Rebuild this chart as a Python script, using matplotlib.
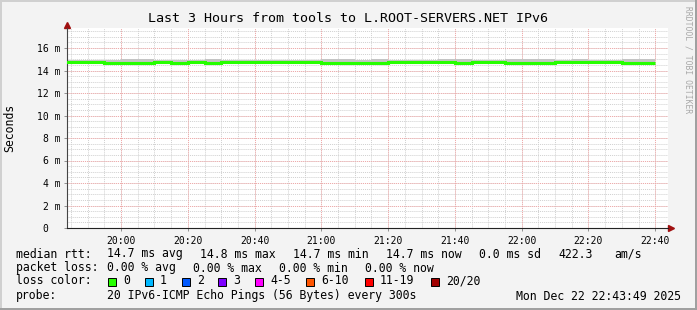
import matplotlib
matplotlib.use("Agg")
import matplotlib.pyplot as plt
import numpy as np
from matplotlib.patches import Rectangle

# 5-minute intervals, edges from 19:40 to 22:40
edges_hm = ["19:40", "19:45", "19:50", "19:55", "20:00", "20:05", "20:10", "20:15",
            "20:20", "20:25", "20:30", "20:35", "20:40", "20:45", "20:50", "20:55",
            "21:00", "21:05", "21:10", "21:15", "21:20", "21:25", "21:30", "21:35",
            "21:40", "21:45", "21:50", "21:55", "22:00", "22:05", "22:10", "22:15",
            "22:20", "22:25", "22:30", "22:35", "22:40"]

# median rtt per interval (ms)
median = [14.79, 14.79, 14.79, 14.70, 14.69, 14.69, 14.79, 14.71, 14.77, 14.69,
          14.79, 14.79, 14.79, 14.79, 14.79, 14.78, 14.69, 14.69, 14.71, 14.69,
          14.80, 14.80, 14.80, 14.78, 14.69, 14.79, 14.79, 14.69, 14.69, 14.71,
          14.79, 14.78, 14.78, 14.79, 14.69, 14.69]
# smoke band (min/max of pings) per interval (ms)
smoke_lo = [14.66, 14.66, 14.68, 14.62, 14.62, 14.62, 14.68, 14.64, 14.66, 14.62,
            14.68, 14.68, 14.68, 14.68, 14.68, 14.67, 14.62, 14.62, 14.64, 14.62,
            14.70, 14.70, 14.70, 14.68, 14.62, 14.68, 14.68, 14.62, 14.62, 14.64,
            14.68, 14.68, 14.68, 14.68, 14.62, 14.62]
smoke_hi = [14.90, 14.90, 14.90, 14.96, 15.06, 15.04, 14.90, 14.96, 14.90, 15.06,
            14.92, 14.90, 14.90, 14.90, 14.90, 14.96, 15.00, 15.00, 14.96, 15.06,
            14.90, 14.90, 14.90, 14.98, 15.02, 14.90, 14.90, 15.06, 15.04, 14.98,
            14.90, 15.04, 14.96, 14.90, 15.02, 15.02]

x_ticks = ["20:00", "20:20", "20:40", "21:00", "21:20", "21:40", "22:00", "22:20", "22:40"]
y_ticks = [0, 2, 4, 6, 8, 10, 12, 14, 16]
y_labels = ["0  ", "2 m", "4 m", "6 m", "8 m", "10 m", "12 m", "14 m", "16 m"]

title = "Last 3 Hours from tools to L.ROOT-SERVERS.NET IPv6"
loss_labels = ["0", "1", "2", "3", "4-5", "6-10", "11-19", "20/20"]
loss_colors = ["#26ff00", "#00b8ff", "#0059ff", "#7e00ff", "#ff00ff", "#ff5500", "#ff0000", "#a10000"]


def hm(s):
    h, m = s.split(":")
    return int(h) * 60 + int(m)


edges = np.array([hm(s) for s in edges_hm], dtype=float)
t0 = 19 * 60 + 43 + 49 / 60
t1 = t0 + 180

W, H = 697, 310
fig = plt.figure(figsize=(W / 100, H / 100), dpi=100)
fig.patch.set_facecolor("#f3f3f3")

# plot area in pixels: x 67..668, y 28..228
ax = fig.add_axes([67 / W, (H - 228) / H, (668 - 67) / W, 200 / H])
ax.set_facecolor("white")
ax.set_xlim(t0, t1)
ax.set_ylim(0, 200 / 11.25)

# grid
for m in np.arange(hm("19:45"), t1, 5):
    ax.axvline(m, color="#d0d0d0", lw=0.7, ls=(0, (1, 1)), zorder=0)
for v in np.arange(0.5, 18, 0.5):
    ax.axhline(v, color="#d0d0d0", lw=0.7, ls=(0, (1, 1)), zorder=0)
for s in x_ticks:
    ax.axvline(hm(s), color="#f2a8a8", lw=0.7, ls=(0, (1, 1)), zorder=0.5)
for v in y_ticks[1:]:
    ax.axhline(v, color="#f2a8a8", lw=0.7, ls=(0, (1, 1)), zorder=0.5)

# smoke and median
ax.stairs(smoke_hi, edges, baseline=smoke_lo, fill=True, color="#c4c4c4", zorder=2)
ax.stairs(median, edges, baseline=None, color="#26ff00", lw=2.2, zorder=3)

ax.set_xticks([hm(s) for s in x_ticks])
ax.set_xticklabels(x_ticks)
ax.set_yticks(y_ticks)
ax.set_yticklabels(y_labels)
ax.tick_params(length=2.5, width=0.7, color="#909090", labelsize=7, pad=2)
for lab in ax.get_xticklabels() + ax.get_yticklabels():
    lab.set_family("DejaVu Sans Mono")
ax.tick_params(axis="x", pad=3)

for sp in ["top", "right"]:
    ax.spines[sp].set_visible(False)
ax.spines["left"].set_color("#444444")
ax.spines["bottom"].set_color("#222222")
ax.spines["left"].set_linewidth(0.8)
ax.spines["bottom"].set_linewidth(0.8)

# axis arrows
ax.plot([0, 0], [1, 1.02], transform=ax.transAxes, color="#444444", lw=0.8, clip_on=False)
ax.plot([1, 1.006], [0, 0], transform=ax.transAxes, color="#222222", lw=0.8, clip_on=False)
ax.plot([0], [1 + 3 / 200], marker="^", ms=4.5, color="#a01010", transform=ax.transAxes, clip_on=False)
ax.plot([1 + 3 / 601], [0], marker=">", ms=4.5, color="#a01010", transform=ax.transAxes, clip_on=False)

mono = "DejaVu Sans Mono"
fs = 8.3


def px(x, y):
    return x / W, 1 - y / H


fig.text(*px(348, 19), title, family=mono, fontsize=9.6, ha="center", va="center")
fig.text(*px(10, 128), "Seconds", family=mono, fontsize=fs, rotation=90, ha="center", va="center")
fig.text(*px(688, 6), "RRDTOOL / TOBI OETIKER", family=mono, fontsize=5.8, rotation=270,
         ha="center", va="top", color="#a8a8a8")

rows = [
    (254, [(16, "median rtt:"), (107, "14.7 ms avg"), (200, "14.8 ms max"), (293, "14.7 ms min"),
           (386, "14.7 ms now"), (479, "0.0 ms sd"), (558, "422.3"), (614, "am/s")]),
    (268, [(16, "packet loss:"), (107, "0.00 % avg"), (193, "0.00 % max"), (279, "0.00 % min"),
           (365, "0.00 % now")]),
    (296, [(16, "probe:"), (107, "20 IPv6-ICMP Echo Pings (56 Bytes) every 300s")]),
]
for y, items in rows:
    for x, s in items:
        fig.text(*px(x, y), s, family=mono, fontsize=fs, ha="left", va="center")
fig.text(*px(681, 296), "Mon Dec 22 22:43:49 2025", family=mono, fontsize=fs, ha="right", va="center")

fig.text(*px(16, 281), "loss color:", family=mono, fontsize=fs, ha="left", va="center")
box_x = [108, 145, 182, 218, 255, 306, 365, 431]
for bx, lab, c in zip(box_x, loss_labels, loss_colors):
    fig.patches.append(Rectangle((bx / W, 1 - 285.5 / H), 8 / W, 8 / H, transform=fig.transFigure,
                                 facecolor=c, edgecolor="black", lw=0.7))
    fig.text(*px(bx + 15, 281), lab, family=mono, fontsize=fs, ha="left", va="center")

# 3d frame
fig.patches.append(Rectangle((0, 1 - 2 / H), 1, 2 / H, transform=fig.transFigure, color="#d0d0d0", lw=0))
fig.patches.append(Rectangle((0, 0), 2 / W, 1, transform=fig.transFigure, color="#d0d0d0", lw=0))
fig.patches.append(Rectangle((0, 0), 1, 2 / H, transform=fig.transFigure, color="#a0a0a0", lw=0))
fig.patches.append(Rectangle((1 - 2 / W, 0), 2 / W, 1, transform=fig.transFigure, color="#a0a0a0", lw=0))

fig.savefig("out.png", dpi=100, facecolor=fig.get_facecolor())
